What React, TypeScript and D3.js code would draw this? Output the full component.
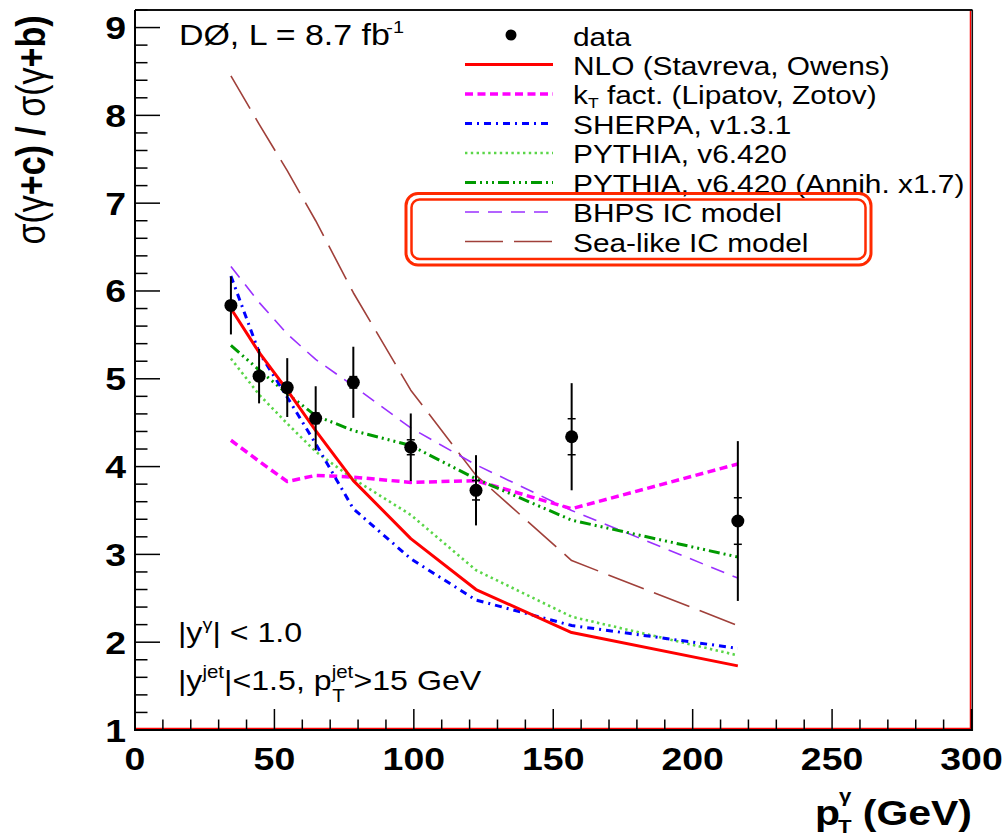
import React from "react";
import * as d3 from "d3";

// ---------- data ----------
const ptValues = [34.4, 44.5, 54.6, 64.8, 78.3, 98.9, 122.3, 156.6, 216.2];
const dataRatio = [5.835, 5.03, 4.9, 4.55, 4.96, 4.22, 3.73, 4.34, 3.38];
const dataErrTotal = [0.33, 0.31, 0.335, 0.365, 0.405, 0.385, 0.4, 0.61, 0.91];
const dataErrStat = [0.05, 0.05, 0.055, 0.06, 0.065, 0.085, 0.11, 0.205, 0.265];

const nloStavrevaOwens = [5.8, 5.3, 4.87, 4.41, 3.84, 3.18, 2.6, 2.11, 1.73];
const ktFactLipatovZotov = [4.3, 4.06, 3.83, 3.9, 3.88, 3.82, 3.84, 3.52, 4.03];
const sherpa131 = [6.17, 5.3, 4.79, 4.26, 3.52, 2.95, 2.48, 2.19, 1.93];
const pythia6420 = [5.23, 4.82, 4.49, 4.17, 3.86, 3.45, 2.82, 2.29, 1.85];
const pythiaAnnih = [5.38, 5.1, 4.83, 4.58, 4.41, 4.24, 3.86, 3.39, 2.97];
const bhpsIC = [6.28, 5.87, 5.51, 5.22, 4.92, 4.44, 4.02, 3.5, 2.73];
const seaLikeIC = [8.45, 7.9, 7.37, 6.8, 5.98, 4.87, 3.9, 2.93, 2.19];

const xMajorTicks = [0, 50, 100, 150, 200, 250, 300];
const yMajorTicks = [1, 2, 3, 4, 5, 6, 7, 8, 9];

// ---------- styles ----------
const FONT = "'Liberation Sans', Arial, Helvetica, sans-serif";
const SX = 1.17;

type Series = {
  key: string;
  values: number[];
  color: string;
  width: number;
  dash: string;
};

const series: Series[] = [
  { key: "sea", values: seaLikeIC, color: "#a0403a", width: 1.6, dash: "38 11" },
  { key: "bhps", values: bhpsIC, color: "#9b30ff", width: 1.6, dash: "14 9" },
  { key: "kt", values: ktFactLipatovZotov, color: "#ff00ff", width: 3.5, dash: "8 4.5" },
  { key: "pythia", values: pythia6420, color: "#5ad648", width: 2.6, dash: "2.4 3.4" },
  { key: "annih", values: pythiaAnnih, color: "#009a00", width: 3, dash: "11 4 2 4 2 4 2 4" },
  { key: "sherpa", values: sherpa131, color: "#0000ff", width: 3, dash: "7 5 2 5" },
  { key: "nlo", values: nloStavrevaOwens, color: "#ff0000", width: 3, dash: "" },
];

const byKey = (k: string) => series.find((s) => s.key === k)!;

function T(props: {
  x: number;
  y: number;
  size: number;
  bold?: boolean;
  anchor?: "start" | "middle" | "end";
  rotate?: number;
  children: React.ReactNode;
}) {
  const { x, y, size, bold, anchor, rotate, children } = props;
  return (
    <text
      transform={`translate(${x},${y}) scale(${SX},1)${rotate ? ` rotate(${rotate})` : ""}`}
      fontSize={size}
      fontWeight={bold ? "bold" : "normal"}
      textAnchor={anchor || "start"}
      fontFamily={FONT}
      fill="#000"
    >
      {children}
    </text>
  );
}

export default function App() {
  const W = 1008;
  const H = 838;
  const left = 135;
  const right = 971.5;
  const top = 10;
  const bottom = 730;

  const x = d3.scaleLinear().domain([0, 300]).range([left, right]);
  const y = d3.scaleLinear().domain([1, 9.2]).range([bottom, top]);

  const line = (vals: number[]) =>
    d3
      .line<number>()
      .x((_, i) => x(ptValues[i]))
      .y((v) => y(v))(vals) || "";

  const xMinor = d3.range(0, 301, 10).filter((v) => v % 50 !== 0);
  const yMinor = d3.range(1, 9.2001, 0.2).filter((v) => Math.abs(v - Math.round(v)) > 1e-6);

  // legend
  const legX1 = 465;
  const legX2 = 553;
  const legText = 573;
  const rowY = (i: number) => 35 + i * 29.5;
  const legendLines: { key: string; label: React.ReactNode }[] = [
    { key: "nlo", label: "NLO (Stavreva, Owens)" },
    {
      key: "kt",
      label: (
        <>
          k
          <tspan fontSize={15} dy={4}>T</tspan>
          <tspan dy={-4}> fact. (Lipatov, Zotov)</tspan>
        </>
      ),
    },
    { key: "sherpa", label: "SHERPA, v1.3.1" },
    { key: "pythia", label: "PYTHIA, v6.420" },
    { key: "annih", label: "PYTHIA, v6.420 (Annih. x1.7)" },
    { key: "bhps", label: "BHPS IC model" },
    { key: "sea", label: "Sea-like IC model" },
  ];

  return (
    <svg
      width={W}
      height={H}
      viewBox={`0 0 ${W} ${H}`}
      style={{ position: "absolute", left: 0, top: 0, background: "#fff" }}
    >
      <rect x={0} y={0} width={W} height={H} fill="#fff" />

      {/* frame: red inner lines right/bottom */}
      <line x1={right - 1} y1={top} x2={right - 1} y2={bottom} stroke="#ff0000" strokeWidth={1.5} />
      <line x1={left} y1={bottom - 1.5} x2={right} y2={bottom - 1.5} stroke="#ff0000" strokeWidth={1.5} />

      {/* curves */}
      {series.map((s) => (
        <path
          key={s.key}
          d={line(s.values)}
          fill="none"
          stroke={s.color}
          strokeWidth={s.width}
          strokeDasharray={s.dash || undefined}
          strokeLinejoin="round"
        />
      ))}

      {/* data */}
      {ptValues.map((pt, i) => {
        const cx = x(pt);
        const cy = y(dataRatio[i]);
        return (
          <g key={i}>
            <line
              x1={cx}
              x2={cx}
              y1={y(dataRatio[i] + dataErrTotal[i])}
              y2={y(dataRatio[i] - dataErrTotal[i])}
              stroke="#000"
              strokeWidth={2}
            />
            {[1, -1].map((sg) => (
              <line
                key={sg}
                x1={cx - 4}
                x2={cx + 4}
                y1={y(dataRatio[i] + sg * dataErrStat[i])}
                y2={y(dataRatio[i] + sg * dataErrStat[i])}
                stroke="#000"
                strokeWidth={1.5}
              />
            ))}
            <circle cx={cx} cy={cy} r={6.5} fill="#000" />
          </g>
        );
      })}

      {/* axes */}
      <line x1={left} y1={top} x2={right + 1} y2={top} stroke="#111" strokeWidth={1.8} />
      <line x1={right + 0.8} y1={top} x2={right + 0.8} y2={bottom + 1} stroke="#111" strokeWidth={1.5} />
      <line x1={left} y1={top} x2={left} y2={bottom + 1} stroke="#000" strokeWidth={2} />
      <line x1={left} y1={bottom} x2={right + 1} y2={bottom} stroke="#000" strokeWidth={2} />

      {xMajorTicks.map((v) => (
        <g key={"xm" + v}>
          <line x1={x(v)} x2={x(v)} y1={bottom} y2={bottom - 21} stroke="#000" strokeWidth={1.5} />
          <T x={x(v)} y={770} size={32} bold anchor="middle">
            {v}
          </T>
        </g>
      ))}
      {xMinor.map((v) => (
        <line key={"xn" + v} x1={x(v)} x2={x(v)} y1={bottom} y2={bottom - 10.5} stroke="#000" strokeWidth={1.5} />
      ))}
      {yMajorTicks.map((v) => (
        <g key={"ym" + v}>
          <line x1={left} x2={left + 25} y1={y(v)} y2={y(v)} stroke="#000" strokeWidth={1.5} />
          <T x={126} y={y(v) + 11.5} size={32} bold anchor="end">
            {v}
          </T>
        </g>
      ))}
      {yMinor.map((v) => (
        <line key={"yn" + v.toFixed(1)} x1={left} x2={left + 12.5} y1={y(v)} y2={y(v)} stroke="#000" strokeWidth={1.5} />
      ))}

      {/* axis titles */}
      <T x={45} y={130} size={34} anchor="middle" rotate={-90}>
        σ(γ<tspan fontWeight="bold">+c) / </tspan>σ(γ<tspan fontWeight="bold">+b)</tspan>
      </T>
      <T x={815} y={825} size={35} bold>
        p
      </T>
      <T x={838} y={833} size={19} bold>
        T
      </T>
      <T x={839} y={802} size={19} bold>
        γ
      </T>
      <T x={972} y={825} size={35} bold anchor="end">
        (GeV)
      </T>

      {/* annotations */}
      <T x={179} y={44.5} size={29}>
        DØ, L = 8.7 fb
        <tspan fontSize={17} dx={-3} dy={-12}>
          -1
        </tspan>
      </T>
      <T x={178} y={641.5} size={27.5}>
        |y
        <tspan fontSize={17} dy={-12}>γ</tspan>
        <tspan dy={12}>| &lt; 1.0</tspan>
      </T>
      <T x={178} y={690} size={27.5}>
        |y
        <tspan fontSize={17.5} dy={-12}>jet</tspan>
        <tspan dy={12}>|&lt;1.5, p</tspan>
        <tspan fontSize={17.5} dy={-12}>jet</tspan>
        <tspan fontSize={17.5} dx={-18} dy={24}>T</tspan>
        <tspan dx={7.5} dy={-12}>&gt;15 GeV</tspan>
      </T>

      {/* legend */}
      <circle cx={511} cy={rowY(0)} r={5.5} fill="#000" />
      <T x={legText} y={rowY(0) + 10.5} size={25.5}>
        data
      </T>
      {legendLines.map((e, j) => {
        const s = byKey(e.key);
        const ry = rowY(j + 1);
        return (
          <g key={e.key}>
            <line
              x1={legX1}
              x2={legX2}
              y1={ry}
              y2={ry}
              stroke={s.color}
              strokeWidth={s.width}
              strokeDasharray={s.dash || undefined}
            />
            <T x={legText} y={ry + 10} size={25.5}>
              {e.label}
            </T>
          </g>
        );
      })}
      {/* highlight box around IC models */}
      <rect x={406} y={193.5} width={465} height={71.5} rx={12} fill="none" stroke="#ff2a00" strokeWidth={3} />
      <rect x={411.5} y={199.5} width={454} height={59.5} rx={8} fill="none" stroke="#ff2a00" strokeWidth={2.5} />
    </svg>
  );
}
